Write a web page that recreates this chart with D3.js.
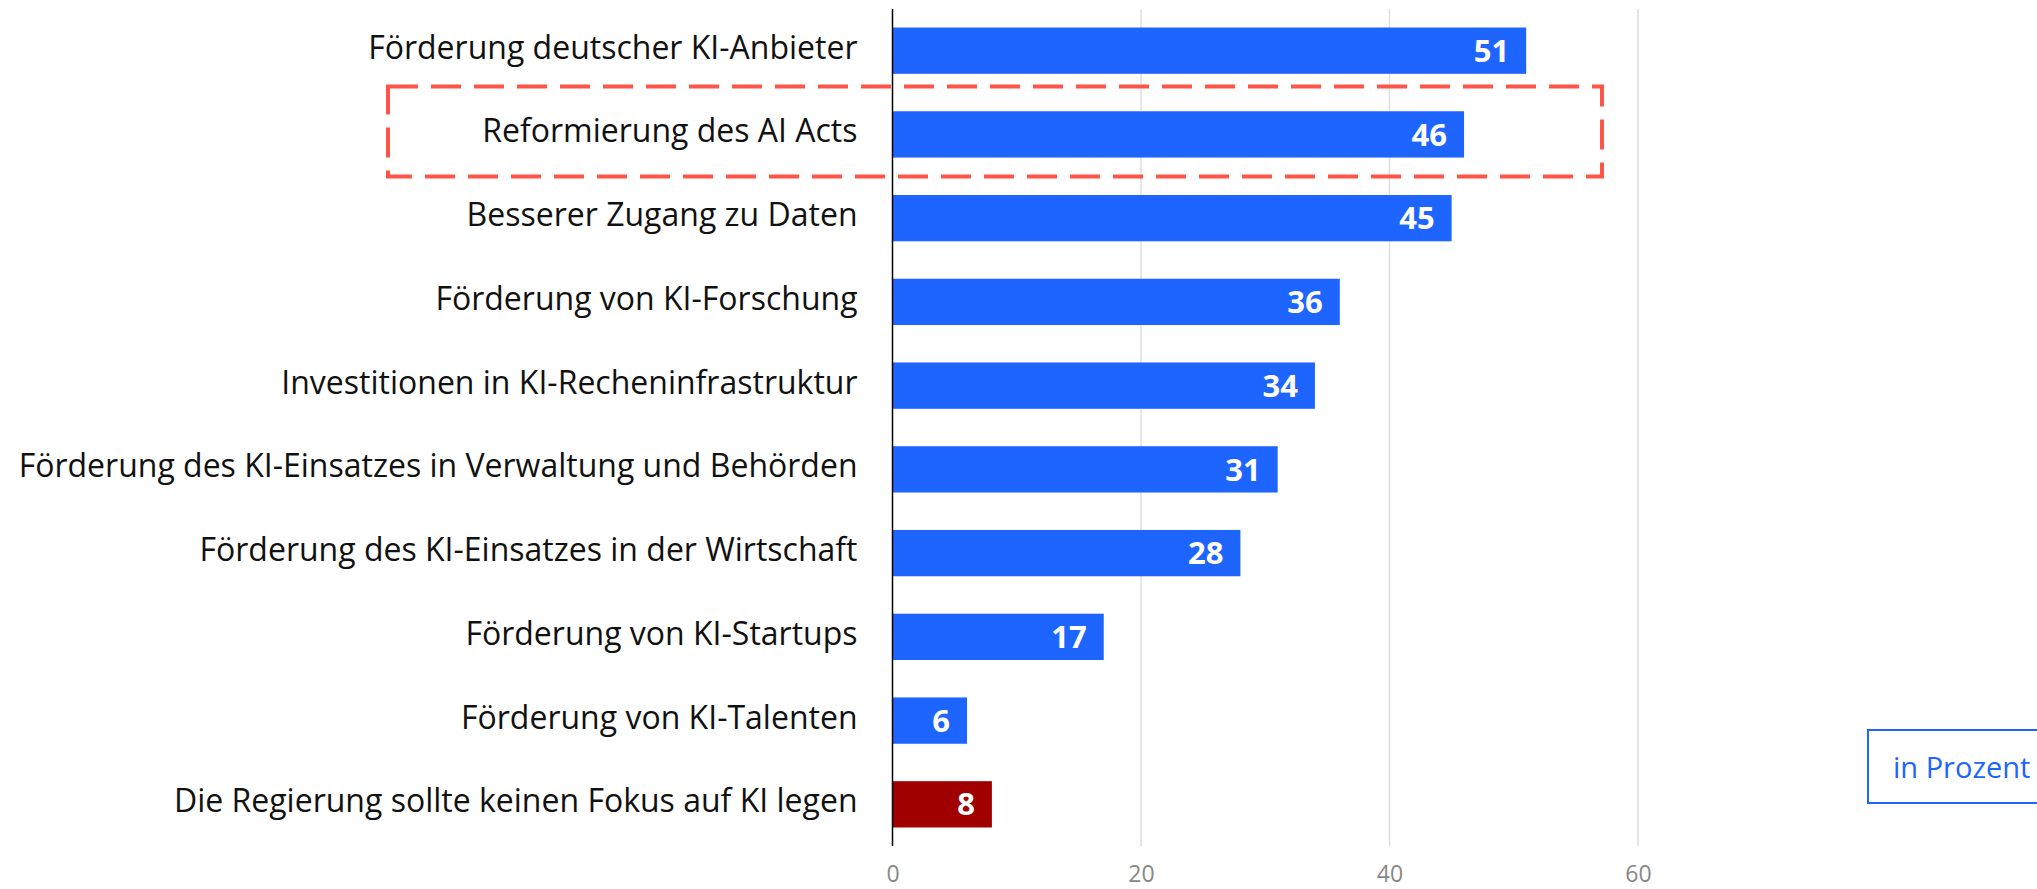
<!DOCTYPE html>
<html>
<head>
<meta charset="utf-8">
<script src="https://cdn.jsdelivr.net/npm/d3@7"></script>
<style>
  html, body { margin: 0; padding: 0; background: #ffffff; }
  svg { display: block; }
</style>
</head>
<body>
<svg id="chart" width="2037" height="889"></svg>
<script>
const categories = [
  "Förderung deutscher KI-Anbieter",
  "Reformierung des AI Acts",
  "Besserer Zugang zu Daten",
  "Förderung von KI-Forschung",
  "Investitionen in KI-Recheninfrastruktur",
  "Förderung des KI-Einsatzes in Verwaltung und Behörden",
  "Förderung des KI-Einsatzes in der Wirtschaft",
  "Förderung von KI-Startups",
  "Förderung von KI-Talenten",
  "Die Regierung sollte keinen Fokus auf KI legen"
];
const values = [51, 46, 45, 36, 34, 31, 28, 17, 6, 8];
const highlightCategory = "Reformierung des AI Acts";
const negativeCategory = "Die Regierung sollte keinen Fokus auf KI legen";
const tickValues = [0, 20, 40, 60];
const unitLabel = "in Prozent";

const data = categories.map((c, i) => ({ category: c, value: values[i] }));

const svg = d3.select("#chart");
const FONT = "'Open Sans', 'DejaVu Sans', sans-serif";

const x = d3.scaleLinear().domain([0, 60]).range([892.5, 1638]);
const y = d3.scaleBand().domain(categories).range([9, 846])
  .paddingInner(0.447).paddingOuter(0.221);

// gridlines
svg.append("g").selectAll("line")
  .data(tickValues.filter(d => d !== 0))
  .join("line")
  .attr("x1", d => x(d)).attr("x2", d => x(d))
  .attr("y1", 9).attr("y2", 846)
  .attr("stroke", "#dedede").attr("stroke-width", 1.5);

// x axis labels
const xAxis = d3.axisBottom(x).tickValues(tickValues).tickSize(0).tickPadding(0);
const gx = svg.append("g").attr("transform", "translate(0,862)").call(xAxis);
gx.select(".domain").remove();
gx.selectAll("text")
  .attr("font-family", FONT).attr("font-size", 23)
  .attr("fill", "#888888").attr("dy", "0.85em");

// bars
svg.append("g").selectAll("rect")
  .data(data)
  .join("rect")
  .attr("x", x(0))
  .attr("y", d => y(d.category))
  .attr("width", d => x(d.value) - x(0))
  .attr("height", y.bandwidth())
  .attr("fill", d => d.category === negativeCategory ? "#a00000" : "#1e64ff");

// value labels
svg.append("g").selectAll("text")
  .data(data)
  .join("text")
  .attr("x", d => x(d.value) - 17)
  .attr("y", d => y(d.category) + y.bandwidth() / 2)
  .attr("dy", "0.36em")
  .attr("text-anchor", "end")
  .attr("font-family", FONT).attr("font-weight", 700).attr("font-size", 31)
  .attr("fill", "#ffffff")
  .text(d => d.value);

// category labels (y axis)
const yAxis = d3.axisLeft(y).tickSize(0).tickPadding(0);
const gy = svg.append("g").attr("transform", `translate(${x(0) - 35},0)`).call(yAxis);
gy.select(".domain").remove();
gy.selectAll("text")
  .attr("font-family", FONT).attr("font-size", 32)
  .attr("fill", "#111111").attr("dy", "0.25em");

// zero axis line
svg.append("line")
  .attr("x1", x(0)).attr("x2", x(0))
  .attr("y1", 9).attr("y2", 846)
  .attr("stroke", "#000000").attr("stroke-width", 1.5);

// highlight dashed box
const hy = y(highlightCategory) + y.bandwidth() / 2;
svg.append("rect")
  .attr("x", 388).attr("y", hy - 48)
  .attr("width", 1602 - 388).attr("height", 90)
  .attr("fill", "none")
  .attr("stroke", "#ff5548").attr("stroke-width", 4)
  .attr("stroke-dasharray", "30,13");

// unit box
svg.append("rect")
  .attr("x", 1868).attr("y", 730)
  .attr("width", 200).attr("height", 73)
  .attr("fill", "none").attr("stroke", "#1e64ff").attr("stroke-width", 2);
svg.append("text")
  .attr("x", 1893).attr("y", 778)
  .attr("font-family", FONT).attr("font-size", 29)
  .attr("fill", "#1e64ff")
  .text(unitLabel);
</script>
</body>
</html>
